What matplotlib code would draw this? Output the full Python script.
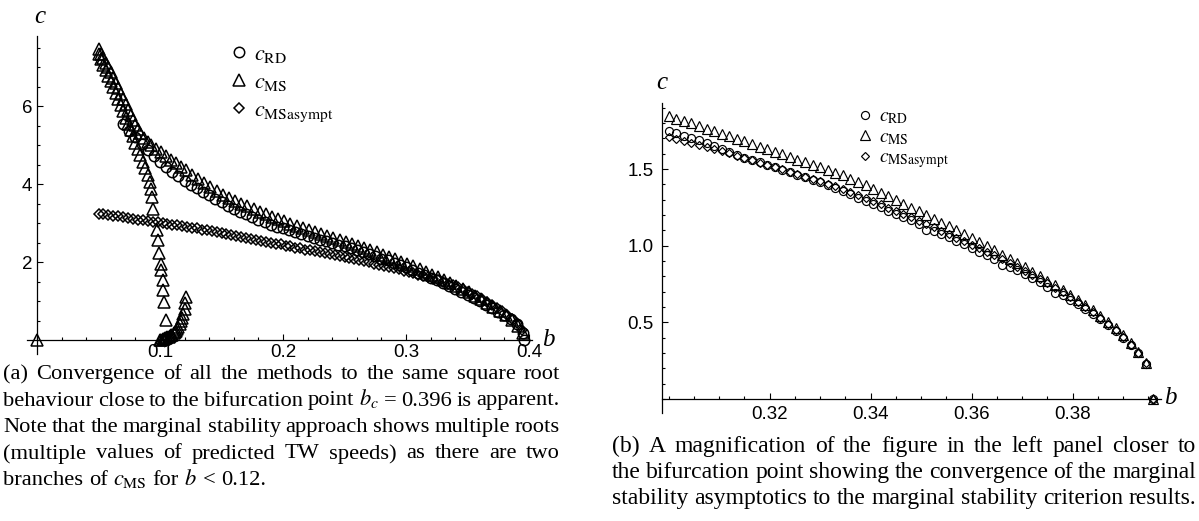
import matplotlib
matplotlib.use('Agg')
import matplotlib.pyplot as plt
from matplotlib.ticker import MultipleLocator

plt.rcParams['mathtext.fontset'] = 'stix'
plt.rcParams['font.family'] = 'Liberation Sans'

W, H = 1199, 521

# ---------------- panel (a) data ----------------
b_rd_a = [0.070, 0.075, 0.080, 0.085, 0.090, 0.095, 0.100, 0.105, 0.110, 0.115,
          0.120, 0.125, 0.130, 0.135, 0.140, 0.145, 0.150, 0.155, 0.160, 0.165,
          0.170, 0.175, 0.180, 0.185, 0.190, 0.195, 0.200, 0.205, 0.210, 0.215,
          0.220, 0.225, 0.230, 0.235, 0.240, 0.245, 0.250, 0.255, 0.260, 0.265,
          0.270, 0.275, 0.280, 0.285, 0.290, 0.295, 0.300, 0.305, 0.310, 0.315,
          0.320, 0.325, 0.330, 0.335, 0.340, 0.345, 0.350, 0.355, 0.360, 0.365,
          0.370, 0.375, 0.380, 0.385, 0.390, 0.395, 0.396]
c_rd_a = [5.55, 5.37, 5.20, 5.03, 4.88, 4.73, 4.57, 4.44, 4.32, 4.20,
          4.08, 3.98, 3.89, 3.80, 3.71, 3.62, 3.53, 3.44, 3.36, 3.29,
          3.22, 3.15, 3.08, 3.02, 2.96, 2.91, 2.86, 2.81, 2.76, 2.71,
          2.66, 2.62, 2.57, 2.53, 2.49, 2.44, 2.40, 2.35, 2.30, 2.25,
          2.20, 2.15, 2.09, 2.04, 1.98, 1.92, 1.86, 1.80, 1.73, 1.67,
          1.60, 1.53, 1.46, 1.39, 1.32, 1.24, 1.16, 1.08, 1.00, 0.91,
          0.82, 0.73, 0.64, 0.53, 0.40, 0.17, 0.00]

# marginal stability, upper branch
b_ms_up = [0.050, 0.052, 0.054, 0.056, 0.058, 0.060, 0.062, 0.064, 0.066, 0.068,
           0.070, 0.072, 0.074, 0.076, 0.078, 0.080, 0.082, 0.084, 0.087, 0.090,
           0.093, 0.097, 0.101, 0.105, 0.109, 0.113, 0.117, 0.121, 0.126, 0.131,
           0.136, 0.141, 0.146, 0.151, 0.156, 0.161, 0.166, 0.171, 0.176, 0.181,
           0.186, 0.191, 0.196, 0.201, 0.206, 0.211, 0.216, 0.221, 0.226, 0.231,
           0.236, 0.241, 0.246, 0.251, 0.256, 0.261, 0.266, 0.271, 0.276, 0.281,
           0.286, 0.291, 0.296, 0.301, 0.306, 0.311, 0.316, 0.321, 0.326, 0.331,
           0.336, 0.341, 0.346, 0.351, 0.356, 0.361, 0.366, 0.371, 0.376, 0.381,
           0.386, 0.391, 0.395]
c_ms_up = [7.45, 7.34, 7.23, 7.11, 6.99, 6.86, 6.73, 6.59, 6.45, 6.32,
           6.18, 6.04, 5.90, 5.76, 5.63, 5.51, 5.40, 5.30, 5.18, 5.09,
           5.01, 4.91, 4.81, 4.71, 4.62, 4.53, 4.44, 4.35, 4.24, 4.13,
           4.02, 3.92, 3.82, 3.73, 3.65, 3.57, 3.50, 3.43, 3.36, 3.29,
           3.22, 3.16, 3.10, 3.04, 2.98, 2.93, 2.87, 2.82, 2.77, 2.71,
           2.66, 2.61, 2.56, 2.51, 2.46, 2.41, 2.36, 2.30, 2.25, 2.19,
           2.13, 2.07, 2.01, 1.95, 1.89, 1.82, 1.75, 1.68, 1.61, 1.53,
           1.46, 1.38, 1.30, 1.22, 1.13, 1.04, 0.95, 0.85, 0.75, 0.64,
           0.52, 0.37, 0.18]

# marginal stability, steep lower branch
b_ms_low = [0.050, 0.052, 0.054, 0.056, 0.058, 0.060, 0.062, 0.064, 0.066, 0.068,
            0.070, 0.072, 0.074, 0.076, 0.078, 0.080, 0.082, 0.084, 0.086, 0.088,
            0.090, 0.0915, 0.0925, 0.0933, 0.0945, 0.0975, 0.0985, 0.0995, 0.1005, 0.1010,
            0.1020, 0.1025, 0.1035, 0.1045]
c_ms_low = [7.33, 7.20, 7.06, 6.92, 6.78, 6.63, 6.48, 6.33, 6.18, 6.02,
            5.86, 5.70, 5.54, 5.38, 5.22, 5.06, 4.90, 4.74, 4.57, 4.40,
            4.22, 4.05, 3.87, 3.67, 3.35, 2.82, 2.56, 2.22, 1.96, 1.79,
            1.54, 1.28, 0.98, 0.51]

# marginal stability, second root for b < 0.12
b_ms_hook = [0.1000, 0.1010, 0.1020, 0.1030, 0.1040, 0.1050, 0.1060, 0.1070, 0.1080, 0.1090,
             0.1100, 0.1110, 0.1120, 0.1130, 0.1140, 0.1150, 0.1160, 0.1170, 0.1180, 0.1190,
             0.1200, 0.1205, 0.1215]
c_ms_hook = [0.00, 0.01, 0.02, 0.03, 0.04, 0.05, 0.07, 0.08, 0.10, 0.12,
             0.14, 0.17, 0.20, 0.24, 0.29, 0.34, 0.40, 0.48, 0.57, 0.68,
             0.80, 0.95, 1.10]

b_ms_zero = [0.0]
c_ms_zero = [0.0]

b_as_a = [0.050, 0.054, 0.058, 0.062, 0.066, 0.070, 0.074, 0.078, 0.082, 0.086,
          0.090, 0.094, 0.098, 0.102, 0.106, 0.110, 0.114, 0.118, 0.122, 0.126,
          0.130, 0.134, 0.138, 0.142, 0.146, 0.150, 0.154, 0.158, 0.162, 0.166,
          0.170, 0.174, 0.178, 0.182, 0.186, 0.190, 0.194, 0.198, 0.202, 0.206,
          0.210, 0.214, 0.218, 0.222, 0.226, 0.230, 0.234, 0.238, 0.242, 0.246,
          0.250, 0.254, 0.258, 0.262, 0.266, 0.270, 0.274, 0.278, 0.282, 0.286,
          0.290, 0.294, 0.298, 0.302, 0.306, 0.310, 0.314, 0.318, 0.322, 0.326,
          0.330, 0.334, 0.338, 0.342, 0.346, 0.350, 0.354, 0.358, 0.362, 0.366,
          0.370, 0.374, 0.378, 0.382, 0.386, 0.390, 0.394]
c_as_a = [3.24, 3.22, 3.20, 3.19, 3.17, 3.15, 3.13, 3.11, 3.09, 3.07,
          3.05, 3.03, 3.02, 3.00, 2.98, 2.96, 2.94, 2.92, 2.90, 2.88,
          2.86, 2.83, 2.81, 2.79, 2.76, 2.74, 2.72, 2.69, 2.67, 2.65,
          2.62, 2.60, 2.57, 2.55, 2.52, 2.50, 2.47, 2.45, 2.42, 2.40,
          2.37, 2.35, 2.32, 2.30, 2.28, 2.25, 2.23, 2.20, 2.18, 2.15,
          2.13, 2.10, 2.08, 2.05, 2.02, 1.99, 1.96, 1.93, 1.91, 1.88,
          1.85, 1.82, 1.78, 1.75, 1.72, 1.68, 1.65, 1.61, 1.57, 1.53,
          1.49, 1.44, 1.40, 1.35, 1.30, 1.24, 1.18, 1.12, 1.05, 0.98,
          0.91, 0.83, 0.74, 0.65, 0.55, 0.43, 0.27]

# ---------------- panel (b) data ----------------
b_zoom = [0.3000, 0.3015, 0.3030, 0.3045, 0.3060, 0.3075, 0.3090, 0.3105, 0.3120, 0.3135,
          0.3150, 0.3165, 0.3180, 0.3195, 0.3210, 0.3225, 0.3240, 0.3255, 0.3270, 0.3285,
          0.3300, 0.3315, 0.3330, 0.3345, 0.3360, 0.3375, 0.3390, 0.3405, 0.3420, 0.3435,
          0.3450, 0.3465, 0.3480, 0.3495, 0.3510, 0.3525, 0.3540, 0.3555, 0.3570, 0.3585,
          0.3600, 0.3615, 0.3630, 0.3645, 0.3660, 0.3675, 0.3690, 0.3705, 0.3720, 0.3735,
          0.3750, 0.3765, 0.3780, 0.3795, 0.3810, 0.3825, 0.3840, 0.3855, 0.3870, 0.3885,
          0.3900, 0.3915, 0.3930, 0.3945, 0.3960]
c_rd_b = [1.748, 1.733, 1.718, 1.703, 1.690, 1.670, 1.648, 1.628, 1.609, 1.592,
          1.575, 1.558, 1.543, 1.528, 1.512, 1.496, 1.480, 1.463, 1.447, 1.430,
          1.413, 1.395, 1.375, 1.355, 1.334, 1.313, 1.292, 1.271, 1.250, 1.229,
          1.208, 1.186, 1.165, 1.143, 1.105, 1.099, 1.077, 1.055, 1.032, 1.009,
          0.986, 0.962, 0.938, 0.914, 0.872, 0.864, 0.839, 0.813, 0.787, 0.760,
          0.733, 0.690, 0.677, 0.648, 0.618, 0.587, 0.554, 0.519, 0.482, 0.442,
          0.400, 0.352, 0.298, 0.230, 0.000]
c_ms_b = [1.846, 1.828, 1.811, 1.797, 1.781, 1.764, 1.747, 1.731, 1.714, 1.697,
          1.680, 1.662, 1.645, 1.628, 1.611, 1.595, 1.578, 1.561, 1.544, 1.527,
          1.510, 1.493, 1.476, 1.458, 1.437, 1.416, 1.393, 1.369, 1.345, 1.321,
          1.297, 1.273, 1.249, 1.225, 1.200, 1.176, 1.151, 1.126, 1.101, 1.076,
          1.050, 1.023, 0.996, 0.969, 0.942, 0.914, 0.886, 0.858, 0.830, 0.801,
          0.772, 0.742, 0.712, 0.680, 0.648, 0.614, 0.579, 0.542, 0.503, 0.461,
          0.416, 0.366, 0.309, 0.238, 0.000]
c_as_b = [1.710, 1.697, 1.684, 1.671, 1.659, 1.645, 1.631, 1.616, 1.602, 1.587,
          1.572, 1.557, 1.542, 1.527, 1.512, 1.497, 1.482, 1.467, 1.451, 1.435,
          1.419, 1.403, 1.387, 1.370, 1.352, 1.333, 1.312, 1.291, 1.270, 1.249,
          1.227, 1.206, 1.184, 1.163, 1.141, 1.119, 1.097, 1.075, 1.052, 1.030,
          1.007, 0.984, 0.960, 0.936, 0.912, 0.887, 0.862, 0.836, 0.810, 0.783,
          0.755, 0.727, 0.697, 0.666, 0.634, 0.600, 0.565, 0.528, 0.489, 0.447,
          0.402, 0.353, 0.298, 0.232, 0.000]

labels = [r'$c_{\mathrm{RD}}$', r'$c_{\mathrm{MS}}$', r'$c_{\mathrm{MSasympt}}$']

caption_a = [
    "(a) Convergence of all the methods to the same square root",
    "behaviour close to the bifurcation point $b_c$ = 0.396 is apparent.",
    "Note that the marginal stability approach shows multiple roots",
    "(multiple values of predicted TW speeds) as there are two",
    r"branches of $c_{\mathrm{MS}}$ for $b$ < 0.12.",
]
caption_b = [
    "(b) A magnification of the figure in the left panel closer to",
    "the bifurcation point showing the convergence of the marginal",
    "stability asymptotics to the marginal stability criterion results.",
]


def style_axes(ax):
    for s in ['top', 'right']:
        ax.spines[s].set_visible(False)
    for s in ['left', 'bottom']:
        ax.spines[s].set_linewidth(0.9)
    ax.tick_params(which='both', direction='in', labelsize=13.5, width=0.8, colors='black')
    ax.tick_params(which='major', length=4.5)
    ax.tick_params(which='minor', length=2.5)


def put_line(fig, text, x0, x1, y, size, justify=True):
    renderer = fig.canvas.get_renderer()
    words = text.split(' ')
    texts = [fig.text(0, 1 - y / H, w, fontsize=size, family='Liberation Serif',
                      va='baseline', ha='left') for w in words]
    widths = [t.get_window_extent(renderer).width for t in texts]
    if justify and len(words) > 1:
        gap = (x1 - x0 - sum(widths)) / (len(words) - 1)
    else:
        gap = size * 100 / 72 * 0.25
    x = x0
    for t, w in zip(texts, widths):
        t.set_x(x / W)
        x += w + gap


fig = plt.figure(figsize=(W / 100, H / 100), dpi=100)

# ---------------- panel (a) ----------------
ax1 = fig.add_axes([27.2 / W, (H - 353.7) / H, 504.3 / W, 317.9 / H])
style_axes(ax1)
ax1.tick_params(axis='x', pad=3)
mk = dict(linestyle='none', mfc='none', mec='black', mew=1.1, clip_on=False)
h_rd, = ax1.plot(b_rd_a, c_rd_a, marker='o', ms=7.5, **mk)
h_ms, = ax1.plot(b_ms_up, c_ms_up, marker='^', ms=8, **mk)
ax1.plot(b_ms_low, c_ms_low, marker='^', ms=8, **mk)
ax1.plot(b_ms_hook, c_ms_hook, marker='^', ms=8, **mk)
ax1.plot(b_ms_zero, c_ms_zero, marker='^', ms=8, **mk)
h_as, = ax1.plot(b_as_a, c_as_a, marker='D', ms=5.6, **mk)

ax1.set_xlim(-0.008, 0.402)
ax1.set_ylim(-0.35, 7.8)
ax1.spines['left'].set_position(('data', 0))
ax1.spines['bottom'].set_position(('data', 0))
ax1.set_xticks([0.1, 0.2, 0.3, 0.4])
ax1.set_xticklabels(['0.1', '0.2', '0.3', '0.4'])
ax1.xaxis.set_minor_locator(MultipleLocator(0.02))
ax1.set_yticks([2, 4, 6])
ax1.yaxis.set_minor_locator(MultipleLocator(0.5))
ax1.set_xlabel('b', family='Liberation Serif', style='italic', fontsize=18)
ax1.set_ylabel('c', family='Liberation Serif', style='italic', fontsize=18, rotation=0)
ax1.xaxis.set_label_coords(1.033, 0.043)
ax1.yaxis.set_label_coords(0.025, 1.058)
ax1.xaxis.label.set_va('center')
ax1.yaxis.label.set_va('center')
ax1.yaxis.label.set_ha('center')
ax1.legend([h_rd, h_ms, h_as], labels, loc='upper left', bbox_to_anchor=(0.402, 0.975),
           frameon=False, fontsize=16, handlelength=0.8, handletextpad=0.3,
           labelspacing=0.32, borderpad=0, borderaxespad=0, numpoints=1)

# ---------------- panel (b) ----------------
ax2 = fig.add_axes([662.1 / W, (H - 412.8) / H, 498.9 / W, 309.7 / H])
style_axes(ax2)
ax2.tick_params(axis='y', pad=6)
ax2.tick_params(axis='x', pad=5)
mk2 = dict(linestyle='none', mfc='none', mec='black', mew=0.85, clip_on=False)
g_rd, = ax2.plot(b_zoom, c_rd_b, marker='o', ms=5.8, **mk2)
g_ms, = ax2.plot(b_zoom, c_ms_b, marker='^', ms=6.5, **mk2)
g_as, = ax2.plot(b_zoom, c_as_b, marker='D', ms=4.2, **mk2)

ax2.set_xlim(0.2987, 0.3975)
ax2.set_ylim(-0.09, 1.93)
ax2.spines['bottom'].set_position(('data', 0))
ax2.set_xticks([0.32, 0.34, 0.36, 0.38])
ax2.set_xticklabels(['0.32', '0.34', '0.36', '0.38'])
ax2.xaxis.set_minor_locator(MultipleLocator(0.005))
ax2.set_yticks([0.5, 1.0, 1.5])
ax2.set_yticklabels(['0.5', '1.0', '1.5'])
ax2.yaxis.set_minor_locator(MultipleLocator(0.1))
ax2.set_xlabel('b', family='Liberation Serif', style='italic', fontsize=18)
ax2.set_ylabel('c', family='Liberation Serif', style='italic', fontsize=18, rotation=0)
ax2.xaxis.set_label_coords(1.018, 0.048)
ax2.yaxis.set_label_coords(0.0, 1.065)
ax2.xaxis.label.set_va('center')
ax2.yaxis.label.set_va('center')
ax2.yaxis.label.set_ha('center')
ax2.legend([g_rd, g_ms, g_as], labels, loc='upper left', bbox_to_anchor=(0.395, 0.985),
           frameon=False, fontsize=14, handlelength=0.6, handletextpad=0.4,
           labelspacing=0.12, borderpad=0, borderaxespad=0, numpoints=1)

# ---------------- captions ----------------
base_a = [379, 405.5, 432, 458.5, 485]
for i, line in enumerate(caption_a):
    put_line(fig, line, 3, 560, base_a[i], 16.2, justify=(i < len(caption_a) - 1))

base_b = [452, 478, 504]
for i, line in enumerate(caption_b):
    put_line(fig, line, 612, 1196, base_b[i], 17, justify=True)

fig.savefig('out.png', dpi=100)
